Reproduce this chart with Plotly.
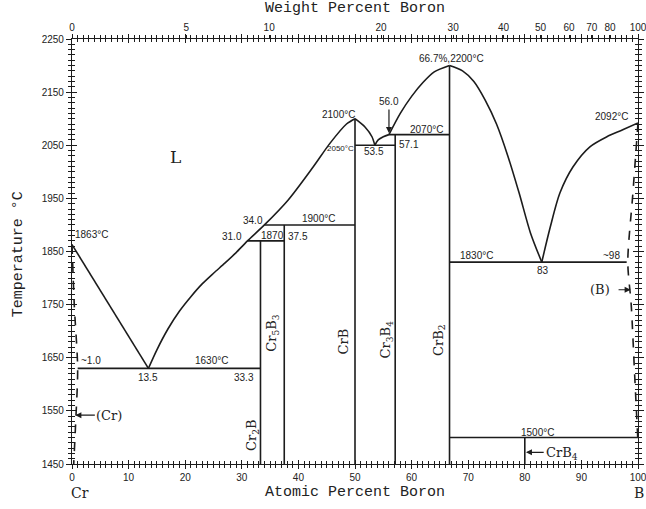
import plotly.graph_objects as go

# ---------------- data (at.% B, temperature in °C) ----------------
# liquidus branches
liq_cr_x = [0.0, 13.5]
liq_cr_t = [1863, 1630]

liq_cr2b_x = [13.5, 15.0, 17.0, 19.0, 21.0, 23.0, 25.0, 27.0, 29.0, 31.0, 34.0, 38.2, 42.6, 45.6, 48.5, 50.0]
liq_cr2b_t = [1630, 1665, 1705, 1738, 1765, 1789, 1809, 1828, 1848, 1870, 1900, 1947, 2009, 2054, 2090, 2100]

liq_crb_x = [50.0, 51.8, 53.0, 53.5]
liq_crb_t = [2100, 2084, 2066, 2050]

liq_cr3b4_x = [53.5, 54.1, 55.0, 56.0]
liq_cr3b4_t = [2050, 2060, 2066, 2070]

liq_crb2_left_x = [56.0, 58.0, 60.0, 62.0, 64.0, 66.7]
liq_crb2_left_t = [2070, 2110, 2142, 2168, 2188, 2200]

liq_crb2_right_x = [66.7, 69.0, 71.0, 73.0, 75.0, 77.0, 79.0, 81.0, 83.0]
liq_crb2_right_t = [2200, 2190, 2170, 2135, 2090, 2030, 1960, 1885, 1830]

liq_b_x = [83.0, 84.5, 86.2, 88.5, 91.5, 94.5, 97.3, 100.0]
liq_b_t = [1830, 1896, 1960, 2009, 2047, 2066, 2079, 2092]

# terminal solid-solution boundaries (dashed)
cr_ss_x = [0.0, 0.4, 1.0, 0.7, 0.3]
cr_ss_t = [1863, 1750, 1630, 1540, 1450]
b_ss_x = [100.0, 99.1, 98.2, 98.8, 99.4, 100.0]
b_ss_t = [2092, 1960, 1830, 1750, 1620, 1490]

# invariant isotherms
iso_t = [1630, 1870, 1900, 2050, 2070, 1830, 1500]
iso_x0 = [1.0, 31.0, 34.0, 50.0, 56.0, 66.7, 66.7]
iso_x1 = [33.3, 37.5, 50.0, 57.1, 66.7, 98.0, 100.0]

# intermediate compounds: composition and upper temperature
cmp_x = [33.3, 37.5, 50.0, 57.1, 66.7, 80.0]
cmp_top = [1870, 1900, 2100, 2070, 2200, 1500]
T_MIN, T_MAX = 1450, 2250

# weight-percent scale on the top axis
wt_ticks = [0, 5, 10, 20, 30, 40, 50, 60, 70, 80, 100]
M_B, M_CR = 10.81, 52.00


def wt_to_at(w):
    if w >= 100:
        return 100.0
    nb = w / M_B
    nc = (100 - w) / M_CR
    return 100 * nb / (nb + nc)


LINE = "#1c1c1c"
NUM_FONT = dict(family="Liberation Sans, Arial, sans-serif", size=10, color="#222")
SERIF = "DejaVu Serif, Liberation Serif, serif"
MONO = "Liberation Mono, Courier New, monospace"

fig = go.Figure()


def add_line(x, y, dash="solid", shape="spline"):
    fig.add_trace(go.Scatter(x=x, y=y, mode="lines", hoverinfo="skip",
                             line=dict(color=LINE, width=1.6, dash=dash, shape=shape,
                                       smoothing=0.8 if shape == "spline" else None)))


add_line(liq_cr_x, liq_cr_t, shape="linear")
add_line(liq_cr2b_x, liq_cr2b_t)
add_line(liq_crb_x, liq_crb_t)
add_line(liq_cr3b4_x, liq_cr3b4_t)
add_line(liq_crb2_left_x, liq_crb2_left_t)
add_line(liq_crb2_right_x, liq_crb2_right_t)
add_line(liq_b_x, liq_b_t)
add_line(cr_ss_x, cr_ss_t, dash="dash")
add_line(b_ss_x, b_ss_t, dash="dash")

# isotherms
hx, hy = [], []
for t, a, b in zip(iso_t, iso_x0, iso_x1):
    hx += [a, b, None]
    hy += [t, t, None]
add_line(hx, hy, shape="linear")

# compound lines
vx, vy = [], []
for c, top in zip(cmp_x, cmp_top):
    vx += [c, c, None]
    vy += [T_MIN, top, None]
add_line(vx, vy, shape="linear")

# invisible traces so the overlay axes are laid out
fig.add_trace(go.Scatter(x=[0, 100], y=[T_MIN, T_MIN], xaxis="x2", mode="lines",
                         line=dict(width=0), hoverinfo="skip", showlegend=False))
fig.add_trace(go.Scatter(x=[0, 100], y=[T_MIN, T_MIN], xaxis="x3", yaxis="y2", mode="lines",
                         line=dict(width=0), hoverinfo="skip", showlegend=False))

# numeric labels: (text, x, y, xanchor, font size)
num_labels = [
    ("1863°C", 0.2, 1882, "left", 10),
    ("~1.0", 1.2, 1645, "left", 10),
    ("13.5", 13.5, 1612, "center", 10),
    ("1630°C", 24.7, 1645, "center", 10),
    ("33.3", 30.4, 1612, "center", 10),
    ("31.0", 28.3, 1879, "center", 10),
    ("34.0", 32.0, 1908, "center", 10),
    ("1870", 35.4, 1880, "center", 10),
    ("37.5", 40.0, 1879, "center", 10),
    ("1900°C", 43.6, 1913, "center", 10),
    ("2100°C", 47.0, 2107, "center", 10),
    ("2050°C", 47.4, 2044, "center", 8),
    ("53.5", 53.3, 2038, "center", 10),
    ("57.1", 59.5, 2052, "center", 10),
    ("56.0", 56.0, 2132, "center", 10),
    ("2070°C", 62.7, 2080, "center", 10),
    ("66.7%,2200°C", 67.1, 2213, "center", 10),
    ("2092°C", 95.4, 2104, "center", 10),
    ("1830°C", 71.4, 1842, "center", 10),
    ("83", 83.2, 1815, "center", 10),
    ("~98", 95.3, 1842, "center", 10),
    ("1500°C", 82.3, 1510, "center", 10),
]

annotations = []
for text, x, y, xa, size in num_labels:
    annotations.append(dict(text=text, x=x, y=y, xref="x", yref="y", showarrow=False,
                            xanchor=xa, yanchor="middle",
                            font=dict(NUM_FONT, size=size)))

# phase labels
serif_labels = [
    ("L", 18.2, 2028, 0, 17),
    ("(Cr)", 6.6, 1542, 0, 13),
    ("(B)", 93.3, 1778, 0, 13),
    ("CrB<sub>4</sub>", 86.6, 1470, 0, 13),
    ("Cr<sub>2</sub>B", 32.0, 1505, -90, 13),
    ("Cr<sub>5</sub>B<sub>3</sub>", 35.5, 1697, -90, 13),
    ("CrB", 48.0, 1680, -90, 13),
    ("Cr<sub>3</sub>B<sub>4</sub>", 55.6, 1684, -90, 13),
    ("CrB<sub>2</sub>", 64.9, 1684, -90, 13),
]
for text, x, y, ang, size in serif_labels:
    annotations.append(dict(text=text, x=x, y=y, xref="x", yref="y", showarrow=False,
                            textangle=ang, xanchor="center", yanchor="middle",
                            font=dict(family=SERIF, size=size, color="#222")))

# arrows: (tip x, tip y, tail x, tail y)
arrows = [
    (56.0, 2073, 56.0, 2120),
    (0.6, 1542, 4.3, 1542),
    (98.7, 1778, 96.3, 1778),
    (80.2, 1472, 83.6, 1472),
]
for x, y, ax, ay in arrows:
    annotations.append(dict(text="", x=x, y=y, ax=ax, ay=ay, xref="x", yref="y",
                            axref="x", ayref="y", showarrow=True, arrowhead=2,
                            arrowsize=1, arrowwidth=1.2, arrowcolor=LINE))

# element labels and axis titles
annotations += [
    dict(text="Cr", x=1.5, y=-0.068, xref="x", yref="paper", showarrow=False,
         xanchor="center", yanchor="middle",
         font=dict(family=SERIF, size=14, color="#222")),
    dict(text="B", x=1.002, y=-0.068, xref="paper", yref="paper", showarrow=False,
         xanchor="center", yanchor="middle",
         font=dict(family=SERIF, size=14, color="#222")),
    dict(text="Atomic Percent Boron", x=0.5, y=-0.068, xref="paper", yref="paper",
         showarrow=False, xanchor="center", yanchor="middle",
         font=dict(family=MONO, size=15, color="#222")),
    dict(text="Weight Percent Boron", x=0.5, y=1.071, xref="paper", yref="paper",
         showarrow=False, xanchor="center", yanchor="middle",
         font=dict(family=MONO, size=15, color="#222")),
    dict(text="Temperature °C", x=-0.095, y=0.494, xref="paper", yref="paper",
         showarrow=False, textangle=-90, xanchor="center", yanchor="middle",
         font=dict(family=MONO, size=15, color="#222")),
]

axis_common = dict(showgrid=False, zeroline=False, showline=True, linecolor=LINE,
                   linewidth=1.2, tickcolor=LINE, tickwidth=1, automargin=False)

fig.update_layout(
    template="none",
    width=646, height=509,
    margin=dict(l=72, r=8, t=39, b=45, autoexpand=False),
    paper_bgcolor="white", plot_bgcolor="white",
    showlegend=False,
    annotations=annotations,
    xaxis=dict(axis_common, range=[0, 100], tick0=0, dtick=10, ticks="outside", ticklen=4,
               mirror="ticks", tickfont=NUM_FONT, ticklabeloverflow="allow",
               minor=dict(dtick=1, ticks="outside", ticklen=2.5, tickcolor=LINE)),
    xaxis3=dict(axis_common, range=[0, 100], overlaying="x", side="bottom", anchor="y2",
                tick0=0, dtick=10, ticks="inside", ticklen=4, mirror="ticks",
                showticklabels=False,
                minor=dict(dtick=1, ticks="inside", ticklen=2.5, tickcolor=LINE)),
    xaxis2=dict(axis_common, range=[0, 100], overlaying="x", side="top", anchor="y",
                tickmode="array", tickvals=[wt_to_at(w) for w in wt_ticks],
                ticktext=[str(w) for w in wt_ticks], ticks="outside", ticklen=3,
                tickfont=NUM_FONT, ticklabeloverflow="allow"),
    yaxis=dict(axis_common, range=[T_MIN, T_MAX], tick0=1450, dtick=100, ticks="outside",
               ticklen=5, mirror="ticks", tickfont=NUM_FONT,
               minor=dict(dtick=10, ticks="outside", ticklen=2.5, tickcolor=LINE)),
    yaxis2=dict(axis_common, range=[T_MIN, T_MAX], overlaying="y", anchor="x3",
                tick0=1450, dtick=100, ticks="inside", ticklen=5, mirror="ticks",
                showticklabels=False,
                minor=dict(dtick=10, ticks="inside", ticklen=2.5, tickcolor=LINE)),
)

fig.write_html("out.html")
